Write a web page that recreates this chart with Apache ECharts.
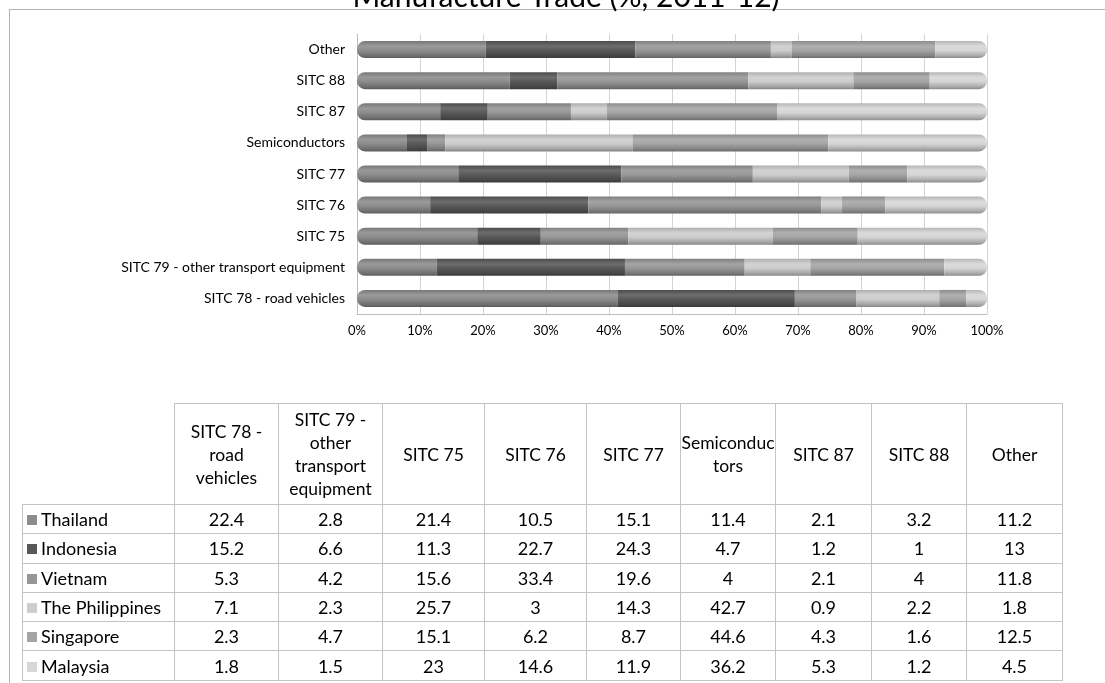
<!DOCTYPE html>
<html>
<head>
<meta charset="utf-8">
<script src="https://cdn.jsdelivr.net/npm/echarts@6/dist/echarts.min.js"></script>
<style>
  html, body { margin: 0; padding: 0; background: #fff; }
  #chart { position: absolute; left: 0; top: 0; width: 1105px; height: 683px; }
  #tbl { position: absolute; left: 22px; top: 403px; border-collapse: collapse; table-layout: fixed;
         font-family: Lato, "Open Sans", sans-serif; color: #000; }
  #tbl td, #tbl th { border: 1px solid #c4c4c4; text-align: center; padding: 0; font-weight: normal; }
  #tbl th { height: 100px; font-size: 17.5px; line-height: 23px; white-space: pre-line; vertical-align: middle; }
  #tbl th.blank { border: none; }
  #tbl td { height: 28.3px; font-size: 18px; line-height: 20px; }
  #tbl td.rl { text-align: left; padding-left: 4px; white-space: nowrap; }
  .sw { display: inline-block; width: 10px; height: 10px; margin-right: 4px; vertical-align: 1px; }
</style>
</head>
<body>
<div id="chart"></div>
<table id="tbl"></table>
<script>
// ---- data ----
const categories = ["SITC 78 - road vehicles", "SITC 79 - other transport equipment", "SITC 75", "SITC 76", "SITC 77", "Semiconductors", "SITC 87", "SITC 88", "Other"];
const tableHeaders = ["SITC 78 -\nroad\nvehicles", "SITC 79 -\nother\ntransport\nequipment", "SITC 75", "SITC 76", "SITC 77", "Semiconduc\ntors", "SITC 87", "SITC 88", "Other"];
const seriesNames = ["Thailand", "Indonesia", "Vietnam", "The Philippines", "Singapore", "Malaysia"];
const thailand    = [22.4, 2.8, 21.4, 10.5, 15.1, 11.4, 2.1, 3.2, 11.2];
const indonesia   = [15.2, 6.6, 11.3, 22.7, 24.3, 4.7, 1.2, 1, 13];
const vietnam     = [5.3, 4.2, 15.6, 33.4, 19.6, 4, 2.1, 4, 11.8];
const philippines = [7.1, 2.3, 25.7, 3, 14.3, 42.7, 0.9, 2.2, 1.8];
const singapore   = [2.3, 4.7, 15.1, 6.2, 8.7, 44.6, 4.3, 1.6, 12.5];
const malaysia    = [1.8, 1.5, 23, 14.6, 11.9, 36.2, 5.3, 1.2, 4.5];
const xTicks = [0, 10, 20, 30, 40, 50, 60, 70, 80, 90, 100];
const titleText = "Manufacture Trade (%, 2011-12)";

// ---- styles ----
const seriesValues = [thailand, indonesia, vietnam, philippines, singapore, malaysia];
const colors = ["#8c8c8c", "#595959", "#979797", "#cdcdcd", "#a5a5a5", "#d6d6d6"];
const FONT = "Lato, 'Open Sans', sans-serif";

function shade(hex, f) {
  const n = parseInt(hex.slice(1), 16);
  let r = (n >> 16) & 255, g = (n >> 8) & 255, b = n & 255;
  const m = v => Math.max(0, Math.min(255, Math.round(f >= 0 ? v + (255 - v) * f : v * (1 + f))));
  return "rgb(" + m(r) + "," + m(g) + "," + m(b) + ")";
}
function cyl(hex) {
  return new echarts.graphic.LinearGradient(0, 0, 0, 1, [
    { offset: 0, color: shade(hex, -0.15) },
    { offset: 0.3, color: shade(hex, 0.12) },
    { offset: 0.55, color: hex },
    { offset: 0.85, color: shade(hex, -0.2) },
    { offset: 1, color: shade(hex, -0.35) }
  ]);
}

// totals per category for 100% stacking
const totals = categories.map((c, i) => seriesValues.reduce((s, arr) => s + arr[i], 0));
const last = seriesNames.length - 1;

const chart = echarts.init(document.getElementById("chart"), null, { renderer: "canvas" });
chart.setOption({
  animation: false,
  title: {
    text: titleText, left: 561, textAlign: "center", top: -23,
    textStyle: { fontFamily: FONT, fontSize: 30, fontWeight: "normal", color: "#000" }
  },
  grid: { left: 357, right: 118, top: 34, bottom: 369 },
  xAxis: {
    type: "value", min: 0, max: 100, interval: 10,
    axisLabel: { formatter: v => v + "%", fontFamily: FONT, fontSize: 13, color: "#000", margin: 10 },
    axisLine: { show: true, lineStyle: { color: "#bdbdbd" } },
    axisTick: { show: false },
    splitLine: { show: true, lineStyle: { color: "#d4d4d4" } }
  },
  yAxis: {
    type: "category", data: categories,
    axisLabel: { fontFamily: FONT, fontSize: 14, color: "#000", margin: 12 },
    axisLine: { show: true, lineStyle: { color: "#bdbdbd" } },
    axisTick: { show: false }
  },
  series: seriesNames.map((name, k) => ({
    name: name, type: "bar", stack: "total", barWidth: 17,
    data: seriesValues[k].map((v, i) => v / totals[i] * 100),
    itemStyle: {
      color: cyl(colors[k]),
      borderRadius: k === 0 ? [8, 0, 0, 8] : (k === last ? [0, 8, 8, 0] : 0)
    }
  })),
  graphic: [
    { type: "line", shape: { x1: 9, y1: 9.5, x2: 1105, y2: 9.5 }, style: { stroke: "#b4b4b4", lineWidth: 1 } },
    { type: "line", shape: { x1: 9.5, y1: 9, x2: 9.5, y2: 683 }, style: { stroke: "#b4b4b4", lineWidth: 1 } }
  ]
});

// ---- data table ----
const colW = [152, 104, 104, 102, 102, 94, 95, 96, 95, 96];
const tbl = document.getElementById("tbl");
let html = "<colgroup>" + colW.map(w => '<col style="width:' + w + 'px">').join("") + "</colgroup>";
html += '<tr><th class="blank"></th>' + tableHeaders.map(h => "<th>" + h + "</th>").join("") + "</tr>";
seriesNames.forEach((name, k) => {
  html += '<tr><td class="rl"><span class="sw" style="background:' + colors[k] + '"></span>' + name + "</td>" +
    seriesValues[k].map(v => "<td>" + v + "</td>").join("") + "</tr>";
});
tbl.innerHTML = html;
</script>
</body>
</html>
